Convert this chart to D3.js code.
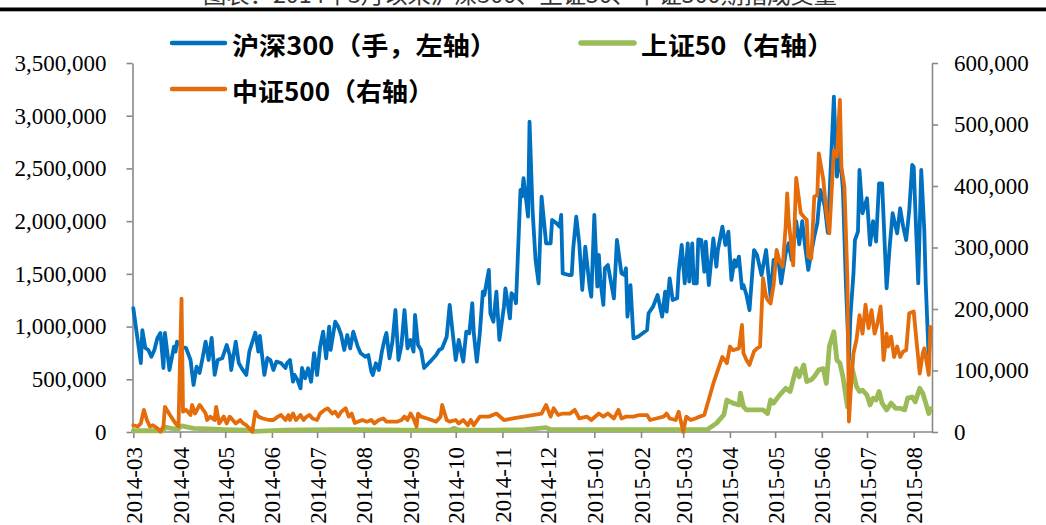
<!DOCTYPE html>
<html>
<head>
<meta charset="utf-8">
<script src="https://cdn.jsdelivr.net/npm/d3@7"></script>
<style>
  html, body { margin: 0; padding: 0; background: #fff; }
  svg { display: block; }
  .num { font-family: "Liberation Serif", "Times New Roman", "DejaVu Serif", serif; }
</style>
</head>
<body>
<svg id="chart" width="1046" height="525"></svg>
<script>
// ---- Data -------------------------------------------------------------
const titleText = "图表：2014年3月以来沪深300、上证50、中证500期指成交量";

const seriesNames = ["沪深300（手，左轴）", "上证50（右轴）", "中证500（右轴）"];

const monthLabels = ["2014-03","2014-04","2014-05","2014-06","2014-07","2014-08","2014-09",
  "2014-10","2014-11","2014-12","2015-01","2015-02","2015-03","2015-04","2015-05","2015-06",
  "2015-07","2015-08"];

const leftTicks = [0, 500000, 1000000, 1500000, 2000000, 2500000, 3000000, 3500000];
const rightTicks = [0, 100000, 200000, 300000, 400000, 500000, 600000];

// 沪深300 (lots, left axis)
const hs300Dates = ["2014-03-03","2014-03-08","2014-03-09","2014-03-11","2014-03-13","2014-03-15","2014-03-17","2014-03-19","2014-03-21","2014-03-23","2014-03-24","2014-03-27","2014-03-30","2014-03-31","2014-04-01","2014-04-04","2014-04-07","2014-04-10","2014-04-12","2014-04-14","2014-04-16","2014-04-18","2014-04-20","2014-04-22","2014-04-24","2014-04-26","2014-04-28","2014-05-01","2014-05-04","2014-05-06","2014-05-07","2014-05-10","2014-05-12","2014-05-14","2014-05-17","2014-05-19","2014-05-23","2014-05-25","2014-05-26","2014-05-29","2014-05-31","2014-06-02","2014-06-04","2014-06-06","2014-06-09","2014-06-12","2014-06-13","2014-06-15","2014-06-17","2014-06-18","2014-06-20","2014-06-22","2014-06-23","2014-06-25","2014-06-27","2014-06-29","2014-07-01","2014-07-03","2014-07-05","2014-07-07","2014-07-09","2014-07-11","2014-07-12","2014-07-15","2014-07-17","2014-07-19","2014-07-21","2014-07-23","2014-07-25","2014-07-27","2014-07-30","2014-08-01","2014-08-04","2014-08-06","2014-08-08","2014-08-09","2014-08-11","2014-08-13","2014-08-15","2014-08-17","2014-08-18","2014-08-20","2014-08-22","2014-08-24","2014-08-26","2014-08-28","2014-08-30","2014-09-01","2014-09-03","2014-09-05","2014-09-06","2014-09-08","2014-09-10","2014-09-12","2014-09-16","2014-09-20","2014-09-22","2014-09-24","2014-09-27","2014-09-29","2014-10-01","2014-10-03","2014-10-05","2014-10-08","2014-10-10","2014-10-12","2014-10-14","2014-10-15","2014-10-17","2014-10-19","2014-10-21","2014-10-22","2014-10-25","2014-10-26","2014-10-28","2014-10-30","2014-11-01","2014-11-04","2014-11-05","2014-11-08","2014-11-09","2014-11-11","2014-11-12","2014-11-15","2014-11-16","2014-11-17","2014-11-19","2014-11-20","2014-11-21","2014-11-23","2014-11-25","2014-11-27","2014-11-29","2014-12-02","2014-12-05","2014-12-06","2014-12-09","2014-12-11","2014-12-12","2014-12-13","2014-12-17","2014-12-19","2014-12-20","2014-12-22","2014-12-24","2014-12-26","2014-12-28","2014-12-31","2015-01-01","2015-01-03","2015-01-05","2015-01-06","2015-01-07","2015-01-09","2015-01-10","2015-01-12","2015-01-14","2015-01-16","2015-01-18","2015-01-21","2015-01-23","2015-01-24","2015-01-25","2015-01-27","2015-01-29","2015-02-01","2015-02-07","2015-02-08","2015-02-11","2015-02-14","2015-02-17","2015-02-19","2015-02-20","2015-02-22","2015-02-24","2015-02-27","2015-02-28","2015-03-02","2015-03-04","2015-03-06","2015-03-07","2015-03-09","2015-03-10","2015-03-12","2015-03-13","2015-03-15","2015-03-17","2015-03-18","2015-03-20","2015-03-23","2015-03-25","2015-03-26","2015-03-29","2015-03-31","2015-04-02","2015-04-04","2015-04-06","2015-04-07","2015-04-09","2015-04-11","2015-04-12","2015-04-14","2015-04-16","2015-04-19","2015-04-21","2015-04-24","2015-04-27","2015-04-30","2015-05-02","2015-05-05","2015-05-07","2015-05-10","2015-05-12","2015-05-14","2015-05-17","2015-05-19","2015-05-21","2015-05-23","2015-05-25","2015-05-27","2015-05-29","2015-05-31","2015-06-02","2015-06-05","2015-06-07","2015-06-11","2015-06-13","2015-06-15","2015-06-17","2015-06-19","2015-06-21","2015-06-22","2015-06-24","2015-06-25","2015-06-27","2015-06-28","2015-06-30","2015-07-03","2015-07-05","2015-07-07","2015-07-09","2015-07-11","2015-07-13","2015-07-15","2015-07-16","2015-07-18","2015-07-20","2015-07-23","2015-07-25","2015-07-27","2015-07-29","2015-07-31","2015-08-02","2015-08-03","2015-08-04","2015-08-06","2015-08-08","2015-08-10","2015-08-11","2015-08-13","2015-08-14"];
const hs300Volume = [1175000,654000,967000,797000,778000,714000,778000,892000,939000,607000,939000,588000,809000,762000,857000,809000,797000,683000,446000,619000,560000,702000,857000,683000,892000,541000,683000,699000,825000,730000,588000,857000,654000,604000,541000,762000,942000,762000,911000,541000,702000,683000,588000,667000,654000,607000,652000,683000,477000,541000,493000,414000,607000,509000,604000,477000,749000,541000,809000,951000,699000,999000,778000,1046000,999000,920000,778000,920000,794000,951000,809000,746000,714000,730000,572000,541000,652000,588000,762000,892000,939000,699000,857000,1157000,683000,825000,1157000,794000,873000,762000,1110000,825000,778000,607000,667000,730000,778000,794000,904000,1205000,939000,683000,873000,667000,951000,936000,1221000,936000,667000,936000,1331000,1299000,1537000,1126000,1046000,1331000,873000,1189000,1363000,1078000,1316000,1284000,1221000,2296000,2232000,2407000,2170000,2043000,2943000,2106000,1631000,1410000,2232000,1790000,1790000,2011000,1979000,1948000,2059000,1505000,1489000,1489000,1742000,2043000,1790000,1347000,1758000,1363000,1284000,2059000,1379000,1679000,1442000,1205000,1553000,1584000,1426000,1268000,1821000,1505000,1489000,1553000,1094000,1394000,888000,904000,967000,1126000,1189000,1300000,1094000,1331000,1141000,1458000,1252000,1268000,1520000,1774000,1410000,1790000,1426000,1790000,1410000,1410000,1826000,1821000,1520000,1806000,1394000,1837000,1568000,1726000,1948000,1774000,1900000,1442000,1631000,1568000,1663000,1363000,1394000,1299000,1157000,1726000,1679000,1489000,1726000,1284000,1631000,1647000,1410000,1695000,1790000,1630000,2000000,1780000,2000000,1750000,1537000,1700000,1853000,1980000,2296000,2138000,1890000,3180000,2422000,2650000,2300000,1400000,683000,1100000,1500000,1821000,1900000,2485000,2075000,2217000,1774000,2000000,1806000,2359000,2359000,1695000,1363000,1750000,2075000,1884000,2122000,1948000,1821000,2100000,2533000,2515000,2138000,1410000,2485000,1916000,1400000,683000,990000];

// 上证50 (lots, right axis)
const sz50Dates = ["2014-03-03","2014-03-13","2014-03-23","2014-03-24","2014-03-28","2014-04-02","2014-04-04","2014-04-12","2014-04-22","2014-05-02","2014-05-17","2014-05-22","2014-06-11","2014-07-11","2014-07-31","2014-08-30","2014-09-29","2014-10-02","2014-10-05","2014-10-29","2014-11-18","2014-12-02","2014-12-05","2014-12-18","2015-01-17","2015-02-16","2015-03-02","2015-03-03","2015-03-05","2015-03-19","2015-03-25","2015-03-30","2015-04-01","2015-04-05","2015-04-09","2015-04-10","2015-04-12","2015-04-14","2015-04-17","2015-04-21","2015-04-25","2015-04-28","2015-04-30","2015-05-02","2015-05-05","2015-05-07","2015-05-10","2015-05-13","2015-05-17","2015-05-19","2015-05-22","2015-05-24","2015-05-27","2015-05-29","2015-06-01","2015-06-04","2015-06-06","2015-06-08","2015-06-11","2015-06-13","2015-06-15","2015-06-17","2015-06-20","2015-06-22","2015-06-24","2015-06-26","2015-06-28","2015-06-30","2015-07-03","2015-07-05","2015-07-07","2015-07-09","2015-07-11","2015-07-13","2015-07-16","2015-07-19","2015-07-22","2015-07-25","2015-07-28","2015-07-30","2015-08-02","2015-08-04","2015-08-07","2015-08-09","2015-08-11","2015-08-13","2015-08-14"];
const sz50Volume = [2000,2000,2000,8000,6000,5000,10000,6000,5000,4000,3000,1000,3000,4000,4000,3000,3000,6000,3000,3000,4000,7000,4000,4000,4000,4000,4000,500,4000,4000,14000,28000,52000,47000,44000,63000,41000,36000,36000,36000,36000,30000,52000,47000,57000,63000,71000,66000,103000,90000,109000,82000,85000,90000,101000,103000,79000,139000,163000,117000,112000,90000,41000,112000,95000,74000,66000,68000,60000,44000,55000,52000,66000,47000,36000,47000,38500,38500,36000,55000,57000,49000,71000,63000,47000,30000,38000];

// 中证500 (lots, right axis)
const zz500Dates = ["2014-03-03","2014-03-06","2014-03-08","2014-03-10","2014-03-12","2014-03-14","2014-03-16","2014-03-19","2014-03-21","2014-03-23","2014-03-24","2014-03-26","2014-03-28","2014-03-31","2014-04-02","2014-04-04","2014-04-05","2014-04-07","2014-04-10","2014-04-11","2014-04-13","2014-04-16","2014-04-17","2014-04-20","2014-04-21","2014-04-23","2014-04-26","2014-04-27","2014-04-29","2014-05-02","2014-05-04","2014-05-06","2014-05-08","2014-05-10","2014-05-13","2014-05-15","2014-05-17","2014-05-19","2014-05-21","2014-05-23","2014-05-25","2014-05-28","2014-06-01","2014-06-04","2014-06-07","2014-06-09","2014-06-12","2014-06-14","2014-06-15","2014-06-17","2014-06-19","2014-06-22","2014-06-24","2014-06-26","2014-06-28","2014-06-30","2014-07-03","2014-07-05","2014-07-08","2014-07-10","2014-07-13","2014-07-15","2014-07-17","2014-07-19","2014-07-22","2014-07-24","2014-07-26","2014-07-28","2014-07-30","2014-08-02","2014-08-05","2014-08-08","2014-08-10","2014-08-13","2014-08-16","2014-08-18","2014-08-22","2014-08-25","2014-08-28","2014-08-30","2014-09-01","2014-09-03","2014-09-05","2014-09-07","2014-09-08","2014-09-10","2014-09-14","2014-09-17","2014-09-20","2014-09-23","2014-09-24","2014-09-27","2014-09-29","2014-10-03","2014-10-05","2014-10-08","2014-10-11","2014-10-13","2014-10-15","2014-10-19","2014-10-25","2014-10-30","2014-11-04","2014-11-10","2014-11-17","2014-11-23","2014-11-29","2014-12-02","2014-12-05","2014-12-07","2014-12-10","2014-12-13","2014-12-18","2014-12-21","2014-12-24","2014-12-29","2015-01-01","2015-01-06","2015-01-09","2015-01-12","2015-01-16","2015-01-19","2015-01-21","2015-01-24","2015-01-29","2015-02-02","2015-02-07","2015-02-09","2015-02-13","2015-02-18","2015-02-20","2015-02-22","2015-02-26","2015-02-28","2015-03-03","2015-03-05","2015-03-08","2015-03-11","2015-03-14","2015-03-17","2015-03-23","2015-03-29","2015-04-01","2015-04-03","2015-04-05","2015-04-09","2015-04-11","2015-04-12","2015-04-14","2015-04-16","2015-04-19","2015-04-21","2015-04-23","2015-04-25","2015-04-27","2015-04-28","2015-04-30","2015-05-02","2015-05-04","2015-05-06","2015-05-08","2015-05-10","2015-05-11","2015-05-12","2015-05-15","2015-05-17","2015-05-20","2015-05-22","2015-05-24","2015-05-25","2015-05-27","2015-05-29","2015-05-31","2015-06-01","2015-06-04","2015-06-06","2015-06-08","2015-06-11","2015-06-13","2015-06-15","2015-06-16","2015-06-18","2015-06-20","2015-06-21","2015-06-22","2015-06-24","2015-06-26","2015-06-28","2015-06-30","2015-07-02","2015-07-04","2015-07-06","2015-07-08","2015-07-10","2015-07-12","2015-07-13","2015-07-14","2015-07-16","2015-07-17","2015-07-19","2015-07-21","2015-07-23","2015-07-25","2015-07-27","2015-07-29","2015-07-31","2015-08-03","2015-08-05","2015-08-07","2015-08-09","2015-08-10","2015-08-13","2015-08-14"];
const zz500Volume = [11000,9000,14000,36000,19500,9000,11000,6000,500,9000,41000,33000,25000,14000,9000,217000,33000,36000,27600,44000,30000,44000,41000,30000,19500,25000,19500,41000,14000,25000,14000,25000,19500,14000,19500,14000,11000,6000,500,33000,25000,22000,19500,19500,25000,27600,19500,27600,19500,30000,19500,27600,19500,25000,27600,22000,19500,30000,36000,38500,30000,33000,25000,33000,38500,25000,30000,14600,16800,19500,16800,19500,14000,19500,22000,16800,16800,16800,19500,25000,19500,30000,22000,8700,30000,25000,22000,19500,16800,25000,44000,19500,16800,19500,14000,19500,11000,19500,11000,25000,25000,30000,19500,22000,25000,27600,30000,44000,25000,38500,27600,30000,30000,36000,22000,25000,19500,30000,25000,30000,22000,36000,22000,25000,25000,27600,27600,19500,22000,25000,30000,22000,19500,33000,500,25000,19500,22000,25000,27600,79000,122000,112000,139000,133000,136000,174000,128000,117000,109000,131000,136000,139000,250000,220000,215000,209000,239000,296000,277000,269000,334000,388000,345000,271000,413000,356000,350000,345000,285000,282000,383000,385000,453000,410000,358000,323000,458000,448000,540000,431000,399000,247000,17000,60000,128000,150000,190000,160000,207000,169000,198000,160000,177000,204000,166000,117000,160000,139000,155000,122000,139000,122000,131000,133000,193000,196000,144000,95000,128000,136000,93000,171000];

const seriesColors = ["#0070C0", "#9BBB59", "#E46C0A"];

// ---- Layout -----------------------------------------------------------
const W = 1046, H = 525;
const plot = { left: 132.5, right: 932, top: 63, bottom: 432 };
const numFont = '"Liberation Serif", "Times New Roman", "DejaVu Serif", serif';
const cjkFont = '"Noto Sans CJK SC", "Noto Sans CJK JP", sans-serif';

const parse = d3.utcParse("%Y-%m-%d");
const toPoints = (dates, vals) => dates.map((d, i) => ({ date: parse(d), value: vals[i] }));

const hs300 = toPoints(hs300Dates, hs300Volume);
const sz50 = toPoints(sz50Dates, sz50Volume);
const zz500 = toPoints(zz500Dates, zz500Volume);

const svg = d3.select("#chart");

// Scales: daily time axis with month marks on the 3rd (first trading day of the sample)
const x = d3.scaleUtc()
  .domain([parse("2014-03-03"), parse("2015-08-15")])
  .range([133.3, 931.8]);
const yL = d3.scaleLinear().domain([0, 3500000]).range([plot.bottom, plot.top]);
const yR = d3.scaleLinear().domain([0, 600000]).range([plot.bottom, plot.top]);

const monthTicks = monthLabels.map(m => parse(m + "-03"));

// ---- Title strip --------------------------------------------------------
svg.append("text")
  .attr("x", 520).attr("y", 3)
  .attr("text-anchor", "middle")
  .attr("textLength", 634).attr("lengthAdjust", "spacingAndGlyphs")
  .style("font-family", cjkFont).style("font-size", "22px").style("fill", "#333")
  .text(titleText);
svg.append("rect")
  .attr("x", 0).attr("y", 7.5).attr("width", W).attr("height", 3.8)
  .attr("fill", "#000");

// ---- Axes ---------------------------------------------------------------
const axisColor = "#898989";
function styleAxis(g) {
  g.attr("font-family", numFont).attr("font-size", 23);
  g.selectAll("path.domain").attr("stroke", axisColor).attr("stroke-width", 1.6);
  g.selectAll(".tick line").attr("stroke", axisColor).attr("stroke-width", 1.6);
  g.selectAll(".tick text")
    .attr("class", "num")
    .style("font-family", numFont).style("font-size", "23px").attr("fill", "#000");
}

const fmt = d3.format(",");

svg.append("g")
  .attr("transform", `translate(${plot.left},0)`)
  .call(d3.axisLeft(yL).tickValues(leftTicks).tickFormat(fmt)
    .tickSize(6).tickSizeOuter(0).tickPadding(20))
  .call(styleAxis);

svg.append("g")
  .attr("transform", `translate(${plot.right},0)`)
  .call(d3.axisRight(yR).tickValues(rightTicks).tickFormat(fmt)
    .tickSize(6).tickSizeOuter(0).tickPadding(16))
  .call(styleAxis);

const xAxisG = svg.append("g")
  .attr("transform", `translate(0,${plot.bottom})`)
  .call(d3.axisBottom(x).tickValues(monthTicks).tickFormat((d, i) => monthLabels[i])
    .tickSize(6).tickSizeOuter(0))
  .call(styleAxis);
xAxisG.select("path.domain").attr("d", `M${plot.left},0H${plot.right}`);
xAxisG.selectAll(".tick text")
  .attr("transform", "rotate(-90)")
  .attr("x", -15).attr("y", 0).attr("dy", "0.35em")
  .attr("text-anchor", "end");

// ---- Series lines -------------------------------------------------------
const lineL = d3.line().x(d => x(d.date)).y(d => yL(d.value));
const lineR = d3.line().x(d => x(d.date)).y(d => yR(d.value));

const lines = svg.append("g").attr("fill", "none")
  .attr("stroke-linejoin", "round").attr("stroke-linecap", "round");
lines.append("path").datum(hs300).attr("d", lineL)
  .attr("stroke", seriesColors[0]).attr("stroke-width", 3.8);
lines.append("path").datum(sz50).attr("d", lineR)
  .attr("stroke", seriesColors[1]).attr("stroke-width", 4.8);
lines.append("path").datum(zz500).attr("d", lineR)
  .attr("stroke", seriesColors[2]).attr("stroke-width", 3.8);

// ---- Legend ---------------------------------------------------------------
const legendPos = [[172, 43], [581, 43], [172, 89]];
const legendWidths = [265, 193, 202];
const legend = svg.append("g");
seriesNames.forEach((name, i) => {
  const [lx, ly] = legendPos[i];
  legend.append("line")
    .attr("x1", lx).attr("x2", lx + 53).attr("y1", ly).attr("y2", ly)
    .attr("stroke", seriesColors[i]).attr("stroke-width", i === 1 ? 5.5 : 4.5)
    .attr("stroke-linecap", "round");
  legend.append("text")
    .attr("x", lx + 60).attr("y", ly + 1)
    .attr("dominant-baseline", "central")
    .attr("textLength", legendWidths[i]).attr("lengthAdjust", "spacingAndGlyphs")
    .style("font-family", cjkFont).style("font-size", "25px").style("font-weight", "bold")
    .attr("fill", "#000")
    .text(name);
});
</script>
</body>
</html>
